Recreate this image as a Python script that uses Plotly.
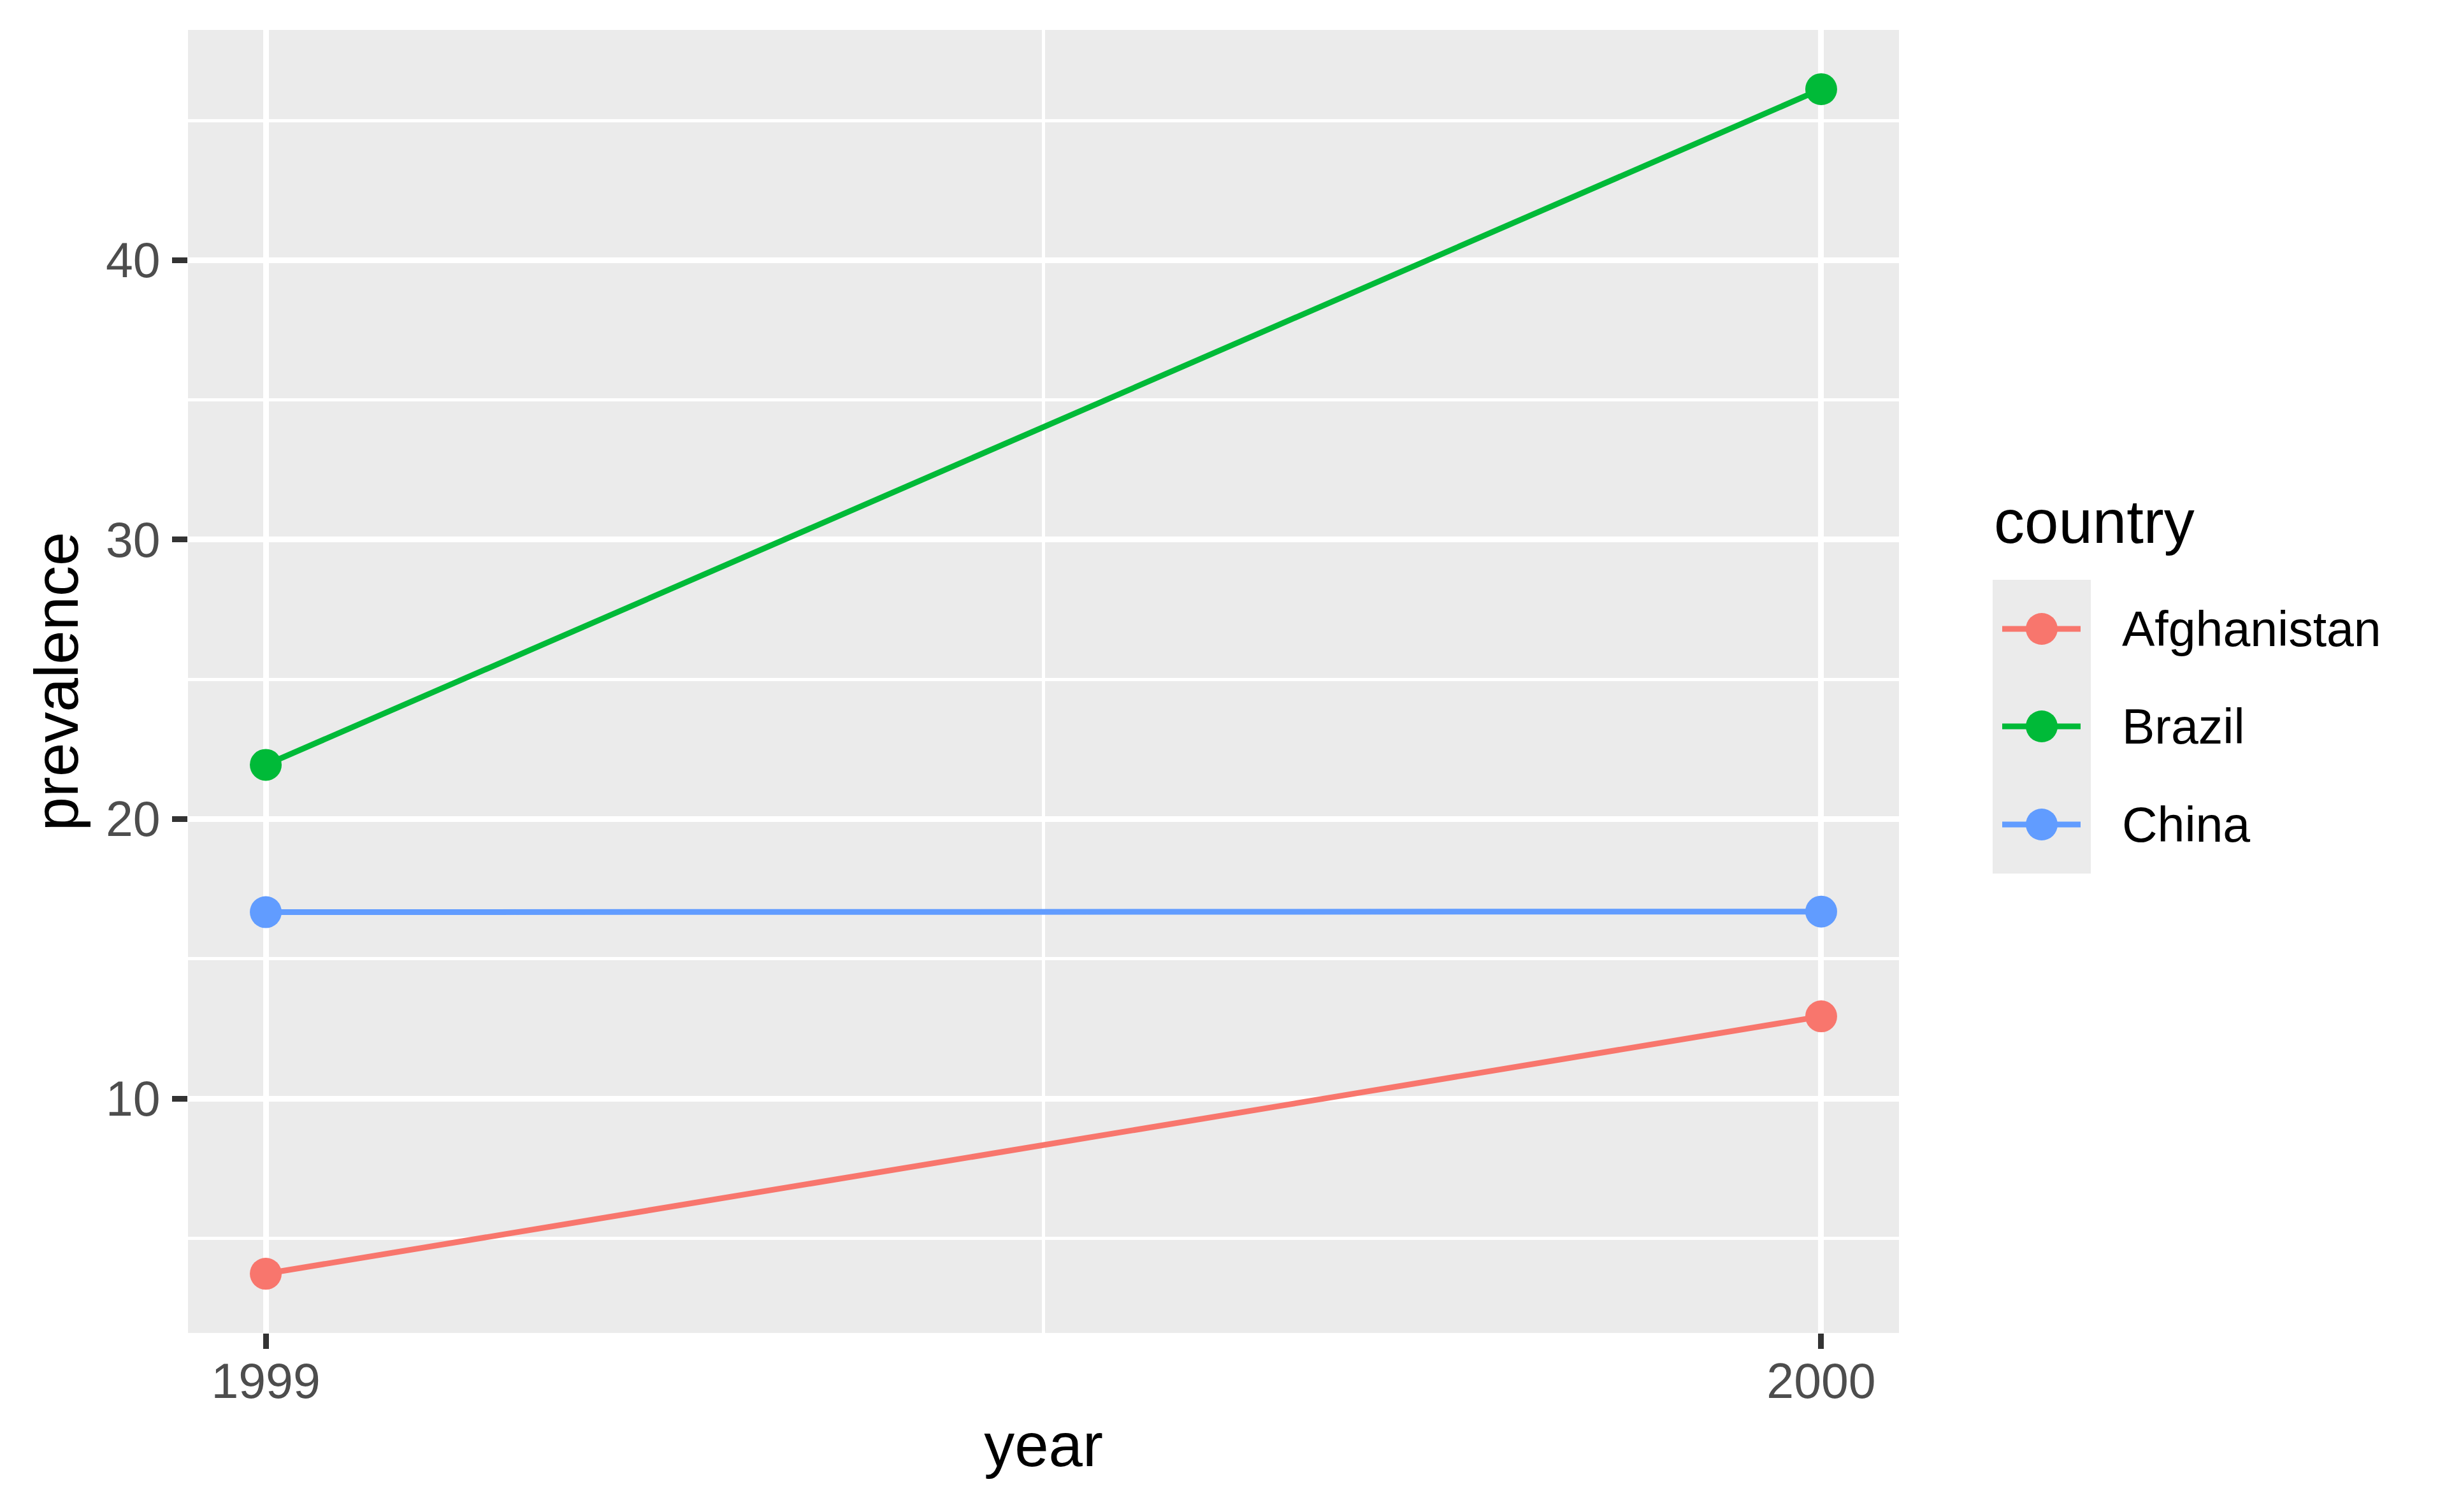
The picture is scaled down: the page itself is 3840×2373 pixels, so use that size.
import plotly.graph_objects as go

years = [1999, 2000]
countries = ["Afghanistan", "Brazil", "China"]
prevalence = {
    "Afghanistan": [3.73, 12.94],
    "Brazil": [21.94, 46.12],
    "China": [16.67, 16.69],
}
colors = {"Afghanistan": "#F8766D", "Brazil": "#00BA38", "China": "#619CFF"}
y_ticks = [10, 20, 30, 40]
y_minor = [5, 15, 25, 35, 45]
x_minor = [1999.5]

W, H = 3840, 2373
OFF = 8  # default page body margin
L, R, T, B = 295, 2980, 47, 2092  # panel edges in the screenshot
FONT = "Liberation Sans, Arial, Helvetica, sans-serif"
SMALL, BIG = 77, 96

fig = go.Figure()
for c in countries:
    fig.add_trace(go.Scatter(
        x=years, y=prevalence[c], mode="lines+markers", name=c,
        line=dict(color=colors[c], width=9),
        marker=dict(color=colors[c], size=50),
        showlegend=False,
    ))

ml, mt = L - OFF, T - OFF
pw, ph = R - L, B - T
fig.update_layout(
    width=W, height=H,
    margin=dict(l=ml, r=W - ml - pw, t=mt, b=H - mt - ph),
    paper_bgcolor="white", plot_bgcolor="#EBEBEB",
    font=dict(family=FONT, size=SMALL, color="#4D4D4D"),
)
fig.update_xaxes(
    range=[1999 - 0.05, 2000 + 0.05],
    tickvals=years, ticktext=[str(y) for y in years],
    showgrid=True, gridcolor="white", gridwidth=9,
    minor=dict(tickvals=x_minor, showgrid=True, gridcolor="white", gridwidth=4.5, ticks=""),
    ticks="outside", ticklen=24, tickwidth=9, tickcolor="#333333",
    tickfont=dict(family=FONT, size=SMALL, color="#4D4D4D"),
    ticklabelstandoff=-15,
    zeroline=False, showline=False,
    title=dict(text="year", font=dict(family=FONT, size=BIG, color="black"), standoff=24),
)
fig.update_yaxes(
    range=[1.61, 48.24],
    tickvals=y_ticks,
    showgrid=True, gridcolor="white", gridwidth=9,
    minor=dict(tickvals=y_minor, showgrid=True, gridcolor="white", gridwidth=4.5, ticks=""),
    ticks="outside", ticklen=24, tickwidth=9, tickcolor="#333333",
    tickfont=dict(family=FONT, size=SMALL, color="#4D4D4D"),
    ticklabelstandoff=3,
    zeroline=False, showline=False,
    title=dict(text="prevalence", font=dict(family=FONT, size=BIG, color="black"), standoff=11),
)

# Manual ggplot-style legend (screenshot pixel positions -> paper coords)
def px(x):
    return (x - L) / (R - L)

def py(y):
    return (B - y) / (B - T)

fig.add_annotation(x=px(3127), y=py(818), xref="paper", yref="paper",
                   text="country", showarrow=False, xanchor="left", yanchor="middle",
                   font=dict(family=FONT, size=BIG, color="black"))
fig.add_shape(type="rect", xref="paper", yref="paper",
              x0=px(3127), x1=px(3281), y0=py(910), y1=py(1371),
              fillcolor="#EBEBEB", line=dict(width=0), layer="below")
key_y = [987, 1140, 1294]
for c, ky in zip(countries, key_y):
    fig.add_shape(type="line", xref="paper", yref="paper",
                  x0=px(3142), x1=px(3265), y0=py(ky), y1=py(ky),
                  line=dict(color=colors[c], width=9))
    fig.add_shape(type="circle", xref="paper", yref="paper",
                  xsizemode="pixel", ysizemode="pixel",
                  xanchor=px(3204), yanchor=py(ky),
                  x0=-25, x1=25, y0=-25, y1=25,
                  fillcolor=colors[c], line=dict(width=0))
    fig.add_annotation(x=px(3328), y=py(ky), xref="paper", yref="paper",
                       text=c, showarrow=False, xanchor="left", yanchor="middle",
                       font=dict(family=FONT, size=SMALL, color="black"))

fig.write_html("out.html")
